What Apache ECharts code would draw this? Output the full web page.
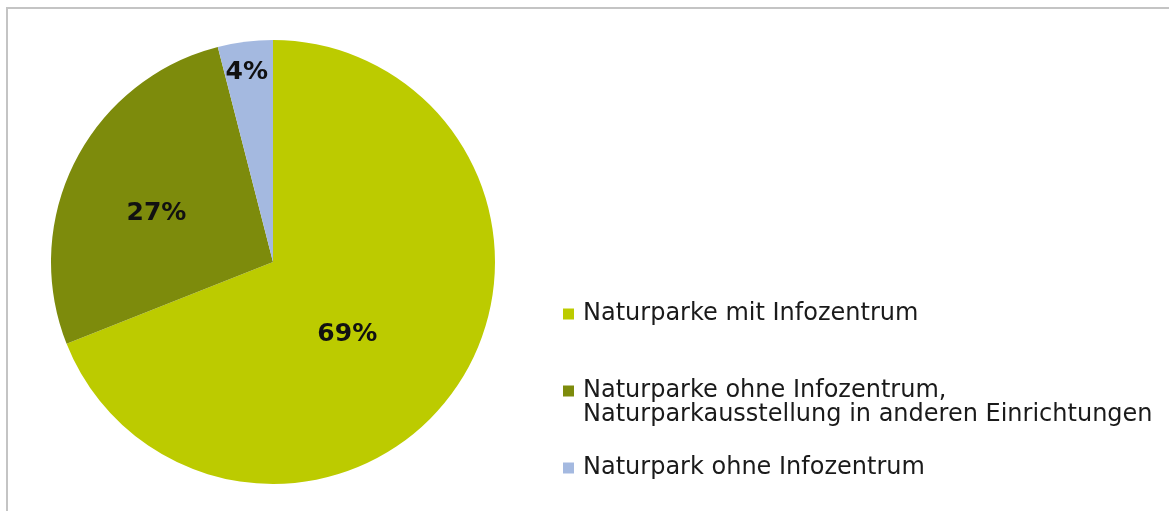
<!DOCTYPE html>
<html style="height: 100%">
<head>
<meta charset="utf-8">
<script src="https://cdn.jsdelivr.net/npm/echarts@6/dist/echarts.min.js"></script>
</head>
<body style="height: 100%; margin: 0; background: #fff">
<div id="container" style="width: 1169px; height: 511px"></div>
<script type="text/javascript">
// slice names and shares (percent)
var names = [
    'Naturparke mit Infozentrum',
    'Naturparke ohne Infozentrum,\nNaturparkausstellung in anderen Einrichtungen',
    'Naturpark ohne Infozentrum'
];
var shares = [69, 27, 4];
var colors = ['#bccb00', '#7d8b0c', '#a4b9e0'];

// nudges of the percent labels away from the default inner spot (Excel-like placement)
var labelNudge = [[-20, 8], [-15, 3], [-12, -76]];

var dom = document.getElementById('container');
var myChart = echarts.init(dom);

var font = 'DejaVu Sans, Verdana, sans-serif';

function oneLegend(i, top, fmt) {
    return {
        data: [names[i]],
        left: 563,
        top: top,
        padding: 0,
        itemWidth: 11,
        itemHeight: 11,
        itemGap: 0,
        icon: 'rect',
        selectedMode: false,
        formatter: fmt,
        textStyle: { fontFamily: font, fontSize: 24, color: '#1a1a1a', lineHeight: 24, padding: [0, 0, 0, 4] }
    };
}

var option = {
    backgroundColor: '#fff',
    color: colors,
    animation: false,
    graphic: [{
        type: 'rect',
        shape: { x: 7, y: 8, width: 1200, height: 600 },
        style: { fill: 'none', stroke: '#c4c4c4', lineWidth: 2 },
        silent: true
    }],
    legend: [
        oneLegend(0, 302),
        // leading empty line keeps the marker level with the first text line
        oneLegend(1, 355, function (n) { return ' \n' + n; }),
        oneLegend(2, 456)
    ],
    series: [{
        type: 'pie',
        center: [273, 262],
        radius: [0, 222],
        startAngle: 90,
        clockwise: true,
        silent: true,
        label: {
            show: true,
            position: 'inner',
            formatter: '{c}%',
            fontFamily: font,
            fontWeight: 'bold',
            fontSize: 25,
            color: '#111'
        },
        labelLine: { show: false },
        labelLayout: function (params) {
            var n = labelNudge[params.dataIndex];
            return { dx: n[0], dy: n[1] };
        },
        itemStyle: { borderWidth: 0 },
        data: names.map(function (n, i) {
            return { name: n, value: shares[i] };
        })
    }]
};

myChart.setOption(option);
</script>
</body>
</html>
